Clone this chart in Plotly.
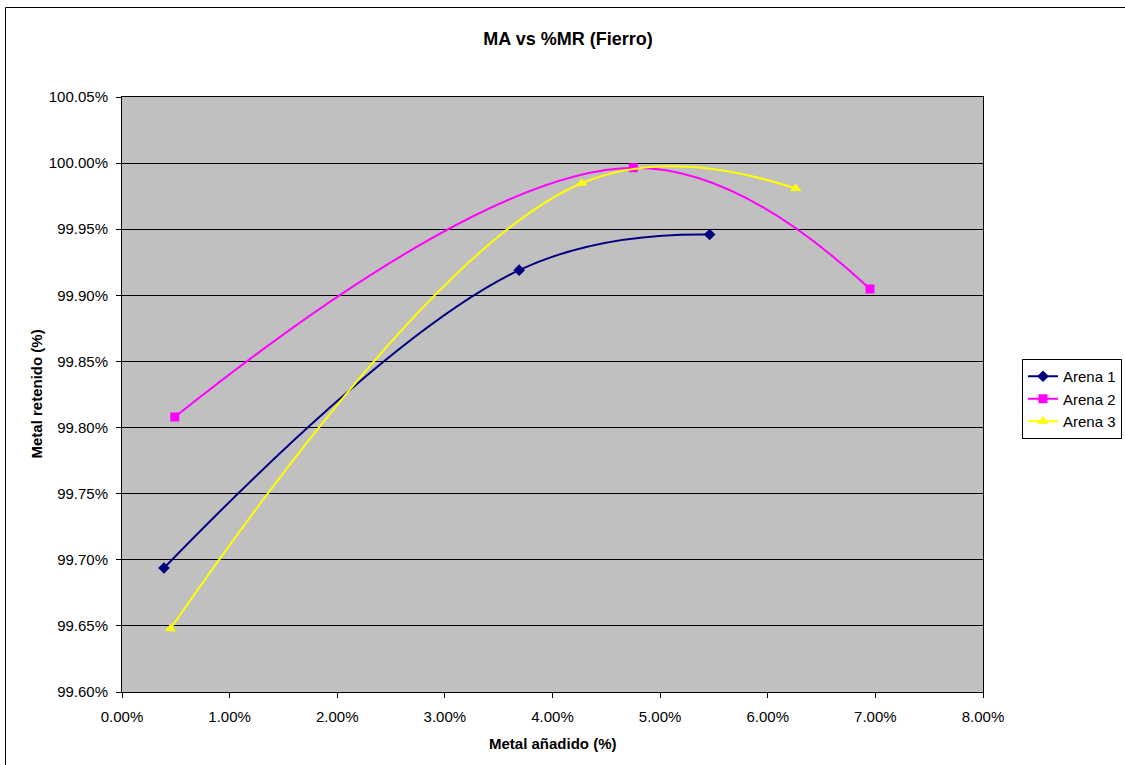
import plotly.graph_objects as go

# Metal añadido (fraction) vs Metal retenido (fraction) per sand type
arena1_x = [0.0039, 0.0369, 0.0546]
arena1_y = [0.996938, 0.999190, 0.999460]

arena2_x = [0.0049, 0.0475, 0.0695]
arena2_y = [0.998080, 0.999965, 0.999048]

arena3_x = [0.0045, 0.0427, 0.0626]
arena3_y = [0.996478, 0.999848, 0.999808]

series = [
    ("Arena 1", arena1_x, arena1_y, "#000080", "diamond", 9),
    ("Arena 2", arena2_x, arena2_y, "#FF00FF", "square", 9),
    ("Arena 3", arena3_x, arena3_y, "#FFFF00", "triangle-up", 10),
]

W, H = 1125, 765
L, R, T, B = 122, 142, 97, 73
pw, ph = W - L - R, H - T - B


def px_x(p):
    return (p - L) / pw


def px_y(p):
    return (H - B - p) / ph


fig = go.Figure()
for name, xs, ys, color, sym, size in series:
    fig.add_trace(go.Scatter(
        x=xs, y=ys, name=name, mode="lines+markers",
        line=dict(color=color, width=2, shape="spline", smoothing=1.15),
        marker=dict(symbol=sym, size=size, color=color),
    ))

font = "Liberation Sans, Arial, sans-serif"

fig.update_layout(
    width=W, height=H, autosize=False,
    margin=dict(l=L, r=R, t=T, b=B, autoexpand=False),
    paper_bgcolor="white", plot_bgcolor="#C0C0C0",
    font=dict(family=font, size=15, color="black"),
    title=dict(text="<b>MA vs %MR (Fierro)</b>", x=568 / W, xanchor="center",
               y=1 - 39 / H, yanchor="middle", yref="container",
               font=dict(size=18, family=font)),
    xaxis=dict(range=[0, 0.08], dtick=0.01, tickformat=".2%", showgrid=False,
               zeroline=False, showline=True, linecolor="black", linewidth=1, mirror=True,
               ticks="outside", ticklen=5, tickcolor="black",
               tickfont=dict(size=15), ticklabelstandoff=6),
    yaxis=dict(range=[0.996, 1.0005], dtick=0.0005, tickformat=".2%", showgrid=True,
               gridcolor="black", gridwidth=1, zeroline=False, showline=True,
               linecolor="black", linewidth=1, mirror=True,
               ticks="outside", ticklen=5, tickcolor="black",
               tickfont=dict(size=15), ticklabelstandoff=5),
    legend=dict(x=px_x(1022), y=px_y(359), xanchor="left", yanchor="top",
                bordercolor="black", borderwidth=1, bgcolor="white",
                font=dict(size=15), tracegroupgap=0, itemwidth=30),
    showlegend=True,
    annotations=[
        dict(text="<b>Metal añadido (%)</b>", xref="paper", yref="paper",
             x=0.5, y=px_y(743), xanchor="center", yanchor="middle",
             showarrow=False, font=dict(size=15)),
        dict(text="<b>Metal retenido (%)</b>", xref="paper", yref="paper",
             x=px_x(36), y=0.5, xanchor="center", yanchor="middle",
             textangle=-90, showarrow=False, font=dict(size=15)),
    ],
)

# outer chart border (extends past the right and bottom edges of the page)
fig.add_shape(type="rect", xref="paper", yref="paper",
              x0=px_x(5.5), x1=px_x(1140), y0=px_y(780), y1=px_y(7.5),
              line=dict(color="black", width=1), fillcolor="rgba(0,0,0,0)", layer="below")

fig.write_html("out.html")
